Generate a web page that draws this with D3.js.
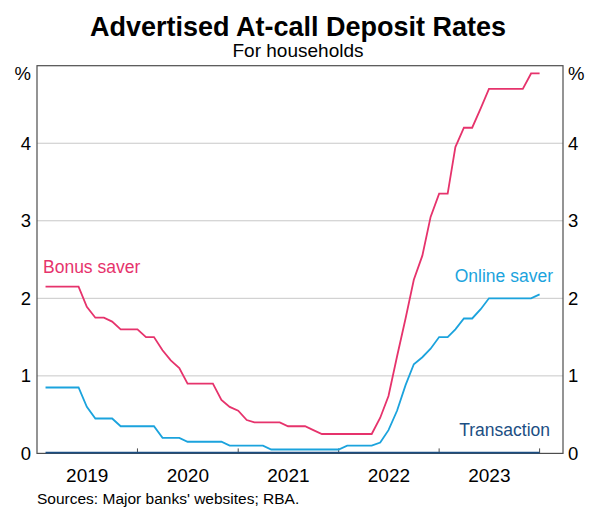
<!DOCTYPE html>
<html>
<head>
<meta charset="utf-8">
<script src="https://cdn.jsdelivr.net/npm/d3@7"></script>
<style>
  body { margin:0; background:#fff; }
  text { font-family: "Liberation Sans", Arial, sans-serif; }
</style>
</head>
<body>
<svg id="chart" width="594" height="507"></svg>
<script>
// monthly observations, Jan 2019 - Dec 2023
const months = d3.range(0, 60).map(i => {
  let y = 2019 + Math.floor(i / 12);
  let m = (i % 12) + 1;
  return y + "-" + ("0" + m).slice(-2);
});
const bonusSaver = [
  2.15, 2.15, 2.15, 2.15, 2.15, 1.89, 1.75, 1.75, 1.70, 1.60, 1.60, 1.60,
  1.50, 1.50, 1.33, 1.20, 1.10, 0.90, 0.90, 0.90, 0.90, 0.69, 0.60, 0.55,
  0.43, 0.40, 0.40, 0.40, 0.40, 0.35, 0.35, 0.35, 0.30, 0.25, 0.25, 0.25,
  0.25, 0.25, 0.25, 0.25, 0.46, 0.74, 1.25, 1.74, 2.24, 2.55, 3.05, 3.35,
  3.35, 3.95, 4.20, 4.20, 4.45, 4.70, 4.70, 4.70, 4.70, 4.70, 4.90, 4.90
];
const onlineSaver = [
  0.85, 0.85, 0.85, 0.85, 0.85, 0.60, 0.45, 0.45, 0.45, 0.35, 0.35, 0.35,
  0.35, 0.35, 0.20, 0.20, 0.20, 0.15, 0.15, 0.15, 0.15, 0.15, 0.10, 0.10,
  0.10, 0.10, 0.10, 0.05, 0.05, 0.05, 0.05, 0.05, 0.05, 0.05, 0.05, 0.05,
  0.10, 0.10, 0.10, 0.10, 0.14, 0.30, 0.55, 0.88, 1.15, 1.24, 1.35, 1.50,
  1.50, 1.60, 1.74, 1.74, 1.86, 2.00, 2.00, 2.00, 2.00, 2.00, 2.00, 2.05
];
const transaction = months.map(() => 0.01);
const yTicks = [0, 1, 2, 3, 4];
const yearTicks = [2019, 2020, 2021, 2022, 2023];

const PAD = { LEFT: 37, RIGHT: 563, TOP: 65.7, BOTTOM: 453.4 };
const svg = d3.select("#chart");
const parseMonth = d3.timeParse("%Y-%m");

// each point sits at the end of its month
let dates = months.map(m => d3.timeMonth.offset(parseMonth(m), 1));

let xScale = d3.scaleTime()
  .domain([new Date(2019, 0, 1), new Date(2024, 2, 26)])
  .range([PAD.LEFT, PAD.RIGHT]);
let yScale = d3.scaleLinear()
  .domain([0, 5])
  .range([PAD.BOTTOM, PAD.TOP]);

// titles
svg.append("text").attr("x", 298).attr("y", 36).attr("text-anchor", "middle")
  .attr("font-size", 27).attr("font-weight", "bold").text("Advertised At-call Deposit Rates");
svg.append("text").attr("x", 298).attr("y", 57).attr("text-anchor", "middle")
  .attr("font-size", 19).text("For households");

// gridlines
svg.append("g").selectAll("line")
  .data(yTicks.filter(d => d > 0))
  .join("line")
  .attr("x1", PAD.LEFT).attr("x2", PAD.RIGHT)
  .attr("y1", d => yScale(d)).attr("y2", d => yScale(d))
  .attr("stroke", "#c8c8c8").attr("stroke-width", 1);

// y axes both sides
let yLeft = d3.axisLeft(yScale).tickValues(yTicks).tickFormat(d3.format("d")).tickSize(0).tickPadding(6);
let yRight = d3.axisRight(yScale).tickValues(yTicks).tickFormat(d3.format("d")).tickSize(0).tickPadding(5);
svg.append("g").attr("transform", "translate(" + PAD.LEFT + ",0)").call(yLeft)
  .call(g => g.select(".domain").remove());
svg.append("g").attr("transform", "translate(" + PAD.RIGHT + ",0)").call(yRight)
  .call(g => g.select(".domain").remove());
svg.selectAll(".tick text").attr("font-size", 18.5).attr("fill", "#000")
  .attr("font-family", "Liberation Sans, Arial, sans-serif");

svg.append("text").attr("x", PAD.LEFT - 6).attr("y", yScale(5) + 8).attr("dy", "0.32em")
  .attr("text-anchor", "end").attr("font-size", 18.5).text("%");
svg.append("text").attr("x", PAD.RIGHT + 5).attr("y", yScale(5) + 8).attr("dy", "0.32em")
  .attr("text-anchor", "start").attr("font-size", 18.5).text("%");

// x ticks at year boundaries, pointing into the plot
svg.append("g").selectAll("line")
  .data([2020, 2021, 2022, 2023, 2024])
  .join("line")
  .attr("x1", d => xScale(new Date(d, 0, 1))).attr("x2", d => xScale(new Date(d, 0, 1)))
  .attr("y1", PAD.BOTTOM).attr("y2", PAD.BOTTOM - 5)
  .attr("stroke", "#4d4d4d");

// year labels centred in each year
svg.append("g").selectAll("text")
  .data(yearTicks)
  .join("text")
  .attr("x", d => (xScale(new Date(d, 0, 1)) + xScale(new Date(d + 1, 0, 1))) / 2)
  .attr("y", 482)
  .attr("text-anchor", "middle").attr("font-size", 19)
  .text(d => d);

// frame
svg.append("rect")
  .attr("x", PAD.LEFT).attr("y", PAD.TOP)
  .attr("width", PAD.RIGHT - PAD.LEFT).attr("height", PAD.BOTTOM - PAD.TOP)
  .attr("fill", "none").attr("stroke", "#4d4d4d").attr("stroke-width", 1.2);

// series
const series = [
  { name: "Bonus saver", values: bonusSaver, color: "#e6336c" },
  { name: "Online saver", values: onlineSaver, color: "#1ba3dd" },
  { name: "Transaction", values: transaction, color: "#1b4e83" }
];
let line = d3.line()
  .x((d, i) => xScale(dates[i]))
  .y(d => yScale(d));
svg.append("g").selectAll("path")
  .data(series)
  .join("path")
  .attr("fill", "none")
  .attr("stroke", d => d.color)
  .attr("stroke-width", 1.8)
  .attr("d", d => line(d.values));

// series labels
svg.append("text").attr("x", 43).attr("y", 273).attr("font-size", 17.5)
  .attr("fill", "#e6336c").text("Bonus saver");
svg.append("text").attr("x", 553).attr("y", 282).attr("font-size", 17.5)
  .attr("text-anchor", "end").attr("fill", "#1ba3dd").text("Online saver");
svg.append("text").attr("x", 550).attr("y", 436).attr("font-size", 17.5)
  .attr("text-anchor", "end").attr("fill", "#1b4e83").text("Transaction");

// source
svg.append("text").attr("x", 37).attr("y", 504).attr("font-size", 15.5)
  .text("Sources: Major banks' websites; RBA.");
</script>
</body>
</html>
